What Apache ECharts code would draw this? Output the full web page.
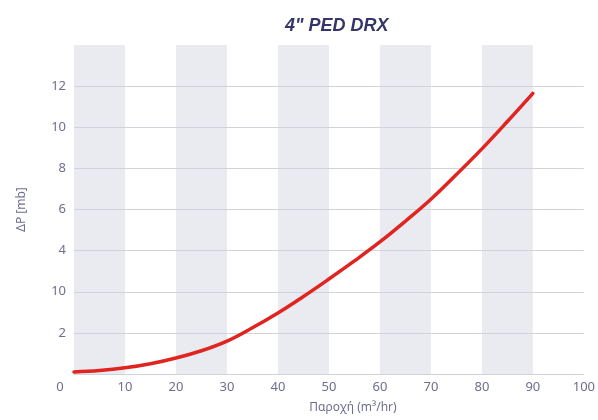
<!DOCTYPE html>
<html><head><meta charset="utf-8">
<script src="https://cdn.jsdelivr.net/npm/echarts@6/dist/echarts.min.js"></script>
<style>html,body{margin:0;padding:0;background:#fff}#c{width:598px;height:420px}</style>
</head><body><div id="c"></div>
<script>
const flow = [0, 5, 10, 15, 20, 25, 30, 35, 40, 45, 50, 55, 60, 65, 70, 75, 80, 85, 90];
const dp   = [0.1, 0.17, 0.3, 0.5, 0.78, 1.13, 1.6, 2.25, 2.97, 3.77, 4.62, 5.5, 6.42, 7.43, 8.5, 9.7, 10.95, 12.28, 13.65];
const yTickValues = [0, 2, 4, 6, 8, 10, 12, 14, 16];
const yTickLabels = ["", "2", "10", "4", "6", "8", "10", "12", ""];

const labelColor = '#6e6e90';
const font = 'Noto Sans';
const gridColor = '#d2d2da';
const chart = echarts.init(document.getElementById('c'), null, {renderer: 'canvas'});
chart.setOption({
  backgroundColor: '#fff',
  animation: false,
  title: {
    text: '4" PED DRX', left: 280, top: 12,
    textStyle: {fontFamily: 'Liberation Sans', fontSize: 18, fontWeight: 'bold', fontStyle: 'italic', color: '#35356a'}
  },
  grid: {left: 74, right: 12, top: 45, bottom: 46},
  xAxis: {
    type: 'value', min: 0, max: 100, interval: 10, z: 0,
    name: 'Παροχή (m³/hr)', nameLocation: 'middle', nameGap: 28,
    nameTextStyle: {fontFamily: font, fontSize: 12, color: labelColor, padding: [0, 0, 0, 48]},
    axisLine: {show: true, lineStyle: {color: gridColor, width: 1}},
    axisTick: {show: false},
    axisLabel: {
      margin: 7, fontFamily: font, fontSize: 13, color: labelColor,
      formatter: v => v === 0 ? '{z|0}' : String(v),
      rich: {z: {fontFamily: font, fontSize: 13, color: labelColor, padding: [0, 28, 0, 0]}}
    },
    splitLine: {show: false},
    splitArea: {show: true, areaStyle: {color: ['#eaeaf1', 'rgba(255,255,255,0)']}}
  },
  yAxis: {
    type: 'value', min: 0, max: 16, interval: 2, z: 3,
    name: 'ΔP [mb]', nameLocation: 'middle', nameGap: 46, nameRotate: 90,
    nameTextStyle: {fontFamily: font, fontSize: 12, color: labelColor},
    axisLine: {show: false},
    axisTick: {show: false},
    axisLabel: {
      margin: 8, fontFamily: font, fontSize: 13, color: labelColor,
      formatter: v => { const i = yTickValues.indexOf(v); return i >= 0 ? yTickLabels[i] : ''; }
    },
    splitLine: {show: true, lineStyle: {color: [gridColor, gridColor, gridColor, gridColor, gridColor, gridColor, gridColor, gridColor, 'rgba(0,0,0,0)'], width: 1.2}}
  },
  series: [{
    type: 'line', smooth: 0.4, symbol: 'none', z: 5,
    data: flow.map((x, i) => [x, dp[i]]),
    lineStyle: {color: '#e0241f', width: 3.5, cap: 'round'}
  }]
});
</script></body></html>
